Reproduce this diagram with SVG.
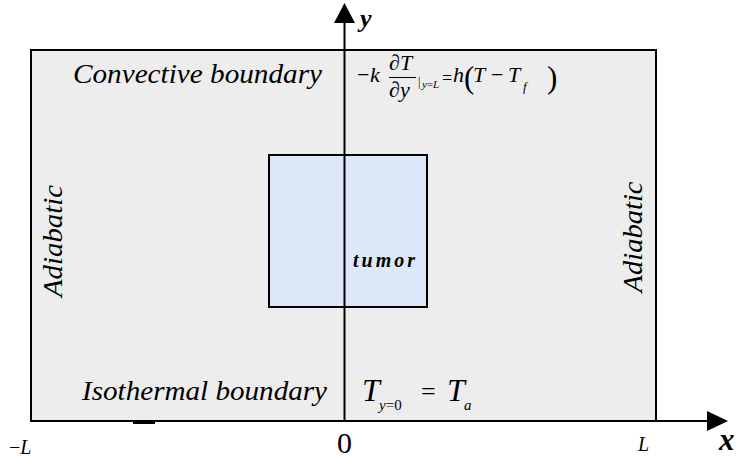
<svg xmlns="http://www.w3.org/2000/svg" width="739" height="459" viewBox="0 0 739 459">
  <rect width="739" height="459" fill="#ffffff"/>

  <g id="domain">
    <rect x="31" y="50" width="625" height="371" fill="#ededed" stroke="#000" stroke-width="2"/>
    <rect x="133" y="421" width="22" height="3" fill="#000"/>
  </g>

  <g id="tumor">
    <rect x="269" y="155" width="158" height="152" fill="#dde9f8" stroke="#000" stroke-width="2"/>
    <text font-family="Liberation Serif" font-style="italic" font-weight="bold" x="353" y="267" font-size="20" textLength="62" lengthAdjust="spacing">tumor</text>
  </g>

  <g id="connectors">
    <line x1="344.5" y1="421" x2="344.5" y2="22" stroke="#000" stroke-width="2"/>
    <polygon points="344.5,3 355,23 334,23" fill="#000"/>
    <line x1="31" y1="421" x2="709" y2="421" stroke="#000" stroke-width="2"/>
    <polygon points="728,421 707,411 707,431" fill="#000"/>
  </g>

  <g id="labels">
    <text font-family="Liberation Serif" font-style="italic" font-weight="bold" x="360" y="27" font-size="26">y</text>
    <text font-family="Liberation Serif" font-style="italic" font-weight="bold" x="719" y="450" font-size="31">x</text>

    <text font-family="Liberation Serif" font-style="italic" font-size="28" x="73" y="83" textLength="249" lengthAdjust="spacingAndGlyphs">Convective boundary</text>
    <text font-family="Liberation Serif" font-style="italic" font-size="28" x="82" y="400" textLength="245" lengthAdjust="spacingAndGlyphs">Isothermal boundary</text>
    <text font-family="Liberation Serif" font-style="italic" font-size="28" transform="translate(62,241) rotate(-90)" x="0" y="0" text-anchor="middle" textLength="112" lengthAdjust="spacingAndGlyphs">Adiabatic</text>
    <text font-family="Liberation Serif" font-style="italic" font-size="28" transform="translate(642,237) rotate(-90)" x="0" y="0" text-anchor="middle" textLength="111" lengthAdjust="spacingAndGlyphs">Adiabatic</text>

    <text font-family="Liberation Serif" font-size="22" x="357" y="82">−</text>
    <text font-family="Liberation Serif" font-style="italic" font-size="22" x="370" y="82">k</text>
    <text font-family="Liberation Serif" font-size="22" x="389" y="70">∂<tspan font-style="italic">T</tspan></text>
    <line x1="389" y1="77.5" x2="416" y2="77.5" stroke="#000" stroke-width="1"/>
    <text font-family="Liberation Serif" font-size="22" x="389" y="97">∂<tspan font-style="italic">y</tspan></text>
    <text font-family="Liberation Serif" font-size="12" x="418" y="86">|</text>
    <text font-family="Liberation Serif" font-size="11" x="422" y="88"><tspan font-style="italic">y</tspan>=<tspan font-style="italic">L</tspan></text>
    <text font-family="Liberation Serif" font-size="18" x="442" y="84">=</text>
    <text font-family="Liberation Serif" font-style="italic" font-size="22" x="453" y="82">h</text>
    <text font-family="Liberation Serif" font-size="31" x="464" y="88">(</text>
    <text font-family="Liberation Serif" font-style="italic" font-size="22" x="473" y="82">T</text>
    <text font-family="Liberation Serif" font-size="22" x="491" y="82">−</text>
    <text font-family="Liberation Serif" font-style="italic" font-size="22" x="508" y="82">T</text>
    <text font-family="Liberation Serif" font-style="italic" font-size="13" x="523" y="91">f</text>
    <text font-family="Liberation Serif" font-size="31" x="547" y="88">)</text>

    <text font-family="Liberation Serif" font-style="italic" font-size="32" x="362" y="401">T</text>
    <text font-family="Liberation Serif" font-size="15" x="379" y="410"><tspan font-style="italic">y</tspan>=0</text>
    <text font-family="Liberation Serif" font-size="26" x="421" y="400">=</text>
    <text font-family="Liberation Serif" font-style="italic" font-size="32" x="447" y="401">T</text>
    <text font-family="Liberation Serif" font-style="italic" font-size="15" x="464" y="410">a</text>

    <text font-family="Liberation Serif" font-size="20" x="9" y="454">−<tspan font-style="italic">L</tspan></text>
    <text font-family="Liberation Serif" font-size="30" x="344.5" y="453" text-anchor="middle">0</text>
    <text font-family="Liberation Serif" font-style="italic" font-size="20" x="638" y="451">L</text>
  </g>
</svg>
